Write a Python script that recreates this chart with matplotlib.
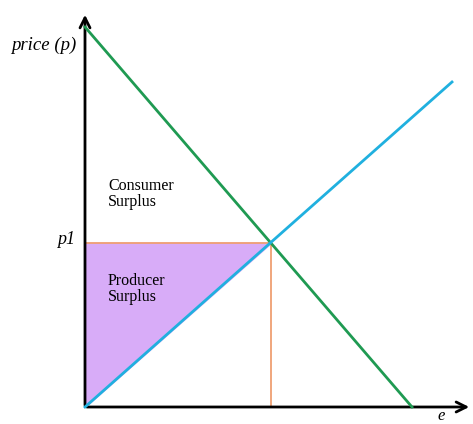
import numpy as np
import matplotlib.pyplot as plt

#-----Data-----#
# demand and supply lines, given by two end points each (quantity, price)
demand_q = [0, 327]
demand_p = [380, 0]
supply_q = [0, 367]
supply_p = [0, 325]

#-----Equilibrium-----#
def Line(q, p):
    slope = (p[1] - p[0]) / (q[1] - q[0])
    return slope, p[0] - slope * q[0]

sd, bd = Line(demand_q, demand_p)
ss, bs = Line(supply_q, supply_p)
q1 = (bs - bd) / (sd - ss)
p1 = sd * q1 + bd

fig = plt.figure(figsize=(4.73, 4.24), dpi=100)
ax = fig.add_axes([0, 0, 1, 1])
ax.set_xlim(-85, 388)
ax.set_ylim(-17, 407)
ax.axis("off")

# producer surplus
ax.fill([0, 0, q1], [0, p1, p1], color="#d8acf8", zorder=1)

# axes with arrows
ax.annotate("", xy=(0, 395), xytext=(0, -1),
            arrowprops=dict(arrowstyle="->", lw=2, color="black", mutation_scale=18))
ax.annotate("", xy=(387, 0), xytext=(-1, 0),
            arrowprops=dict(arrowstyle="->", lw=2, color="black", mutation_scale=18))

ax.plot(demand_q, demand_p, color="#1f9a52", lw=2, zorder=3)
ax.plot(supply_q, supply_p, color="#20b0df", lw=2, zorder=3)
ax.plot([0, q1], [p1, p1], color="#ef9f72", lw=1.3, zorder=2)
ax.plot([q1, q1], [0, p1], color="#ef9f72", lw=1.3, zorder=2)

serif = "Liberation Serif"
ax.text(-41, 362, "price (p)", fontsize=13.5, style="italic", family=serif,
        ha="center", va="center")
ax.text(-10, p1 + 3, "p1", fontsize=13, style="italic", family=serif,
        ha="right", va="center")
ax.text(23, 213, "Consumer\nSurplus", fontsize=11.5, family=serif,
        ha="left", va="center", linespacing=1.05)
ax.text(23, 118, "Producer\nSurplus", fontsize=11.5, family=serif,
        ha="left", va="center", linespacing=1.05)
ax.text(356, -9, "e", fontsize=12, style="italic", family=serif,
        ha="center", va="center")

fig.savefig("out.png", dpi=100)
